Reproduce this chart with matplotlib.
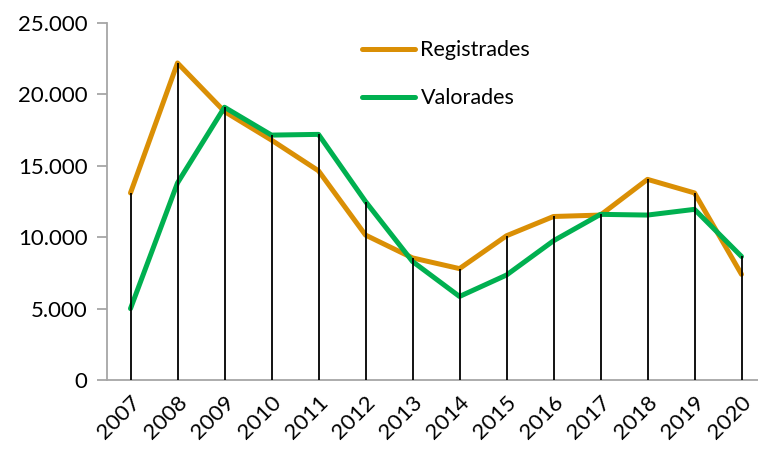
"""Registrades vs valorades per any, amb línies verticals fins al màxim."""

import matplotlib.pyplot as plt
import numpy as np
from matplotlib.ticker import FuncFormatter

YEARS = [str(y) for y in range(2007, 2021)]
REGISTRADES = [13100, 22200, 18800, 16800, 14650, 10150, 8550, 7800,
               10100, 11450, 11550, 14050, 13100, 7400]
VALORADES = [5000, 13800, 19100, 17150, 17200, 12500, 8300, 5850,
             7350, 9750, 11600, 11550, 11950, 8650]

ORANGE = "#DA8F05"
GREEN = "#00B050"
AXIS_GREY = "#A6A6A6"

plt.rcParams["font.family"] = ["Lato", "DejaVu Sans"]

W, H = 758, 449
fig = plt.figure(figsize=(W / 100, H / 100), dpi=100)
# plot area in pixels: x from 107 to 765 (runs past the right edge), y from 23 to 380
ax = fig.add_axes([107 / W, (H - 380) / H, 658 / W, 357 / H])

x = np.arange(len(YEARS))
ax.plot(x, REGISTRADES, color=ORANGE, lw=3.6, label="Registrades",
        solid_capstyle="round", zorder=2)
ax.plot(x, VALORADES, color=GREEN, lw=3.6, label="Valorades",
        solid_capstyle="round", zorder=2)
ax.vlines(x, 0, np.maximum(REGISTRADES, VALORADES), color="black", lw=1.3, zorder=3)

ax.set_xlim(-0.5, len(YEARS) - 0.5)
ax.set_ylim(0, 25000)
ax.set_yticks(range(0, 25001, 5000))
ax.yaxis.set_major_formatter(FuncFormatter(lambda v, _: f"{int(v):,}".replace(",", ".")))
ax.set_xticks(x)
ax.set_xticklabels(YEARS, rotation=45, ha="right", rotation_mode="anchor")

for side in ("top", "right"):
    ax.spines[side].set_visible(False)
for side in ("left", "bottom"):
    ax.spines[side].set_color(AXIS_GREY)
    ax.spines[side].set_linewidth(1.3)
ax.tick_params(axis="y", length=7, width=1.3, color=AXIS_GREY, labelsize=16, pad=7)
ax.tick_params(axis="x", length=0, labelsize=16, pad=9)

ax.legend(loc="upper left", bbox_to_anchor=(343 / W, 1 - 21 / H),
          bbox_transform=fig.transFigure, frameon=False, fontsize=15.5,
          handlelength=2.45, labelspacing=1.3, handletextpad=0.25)

fig.savefig("out.png", dpi=100)
